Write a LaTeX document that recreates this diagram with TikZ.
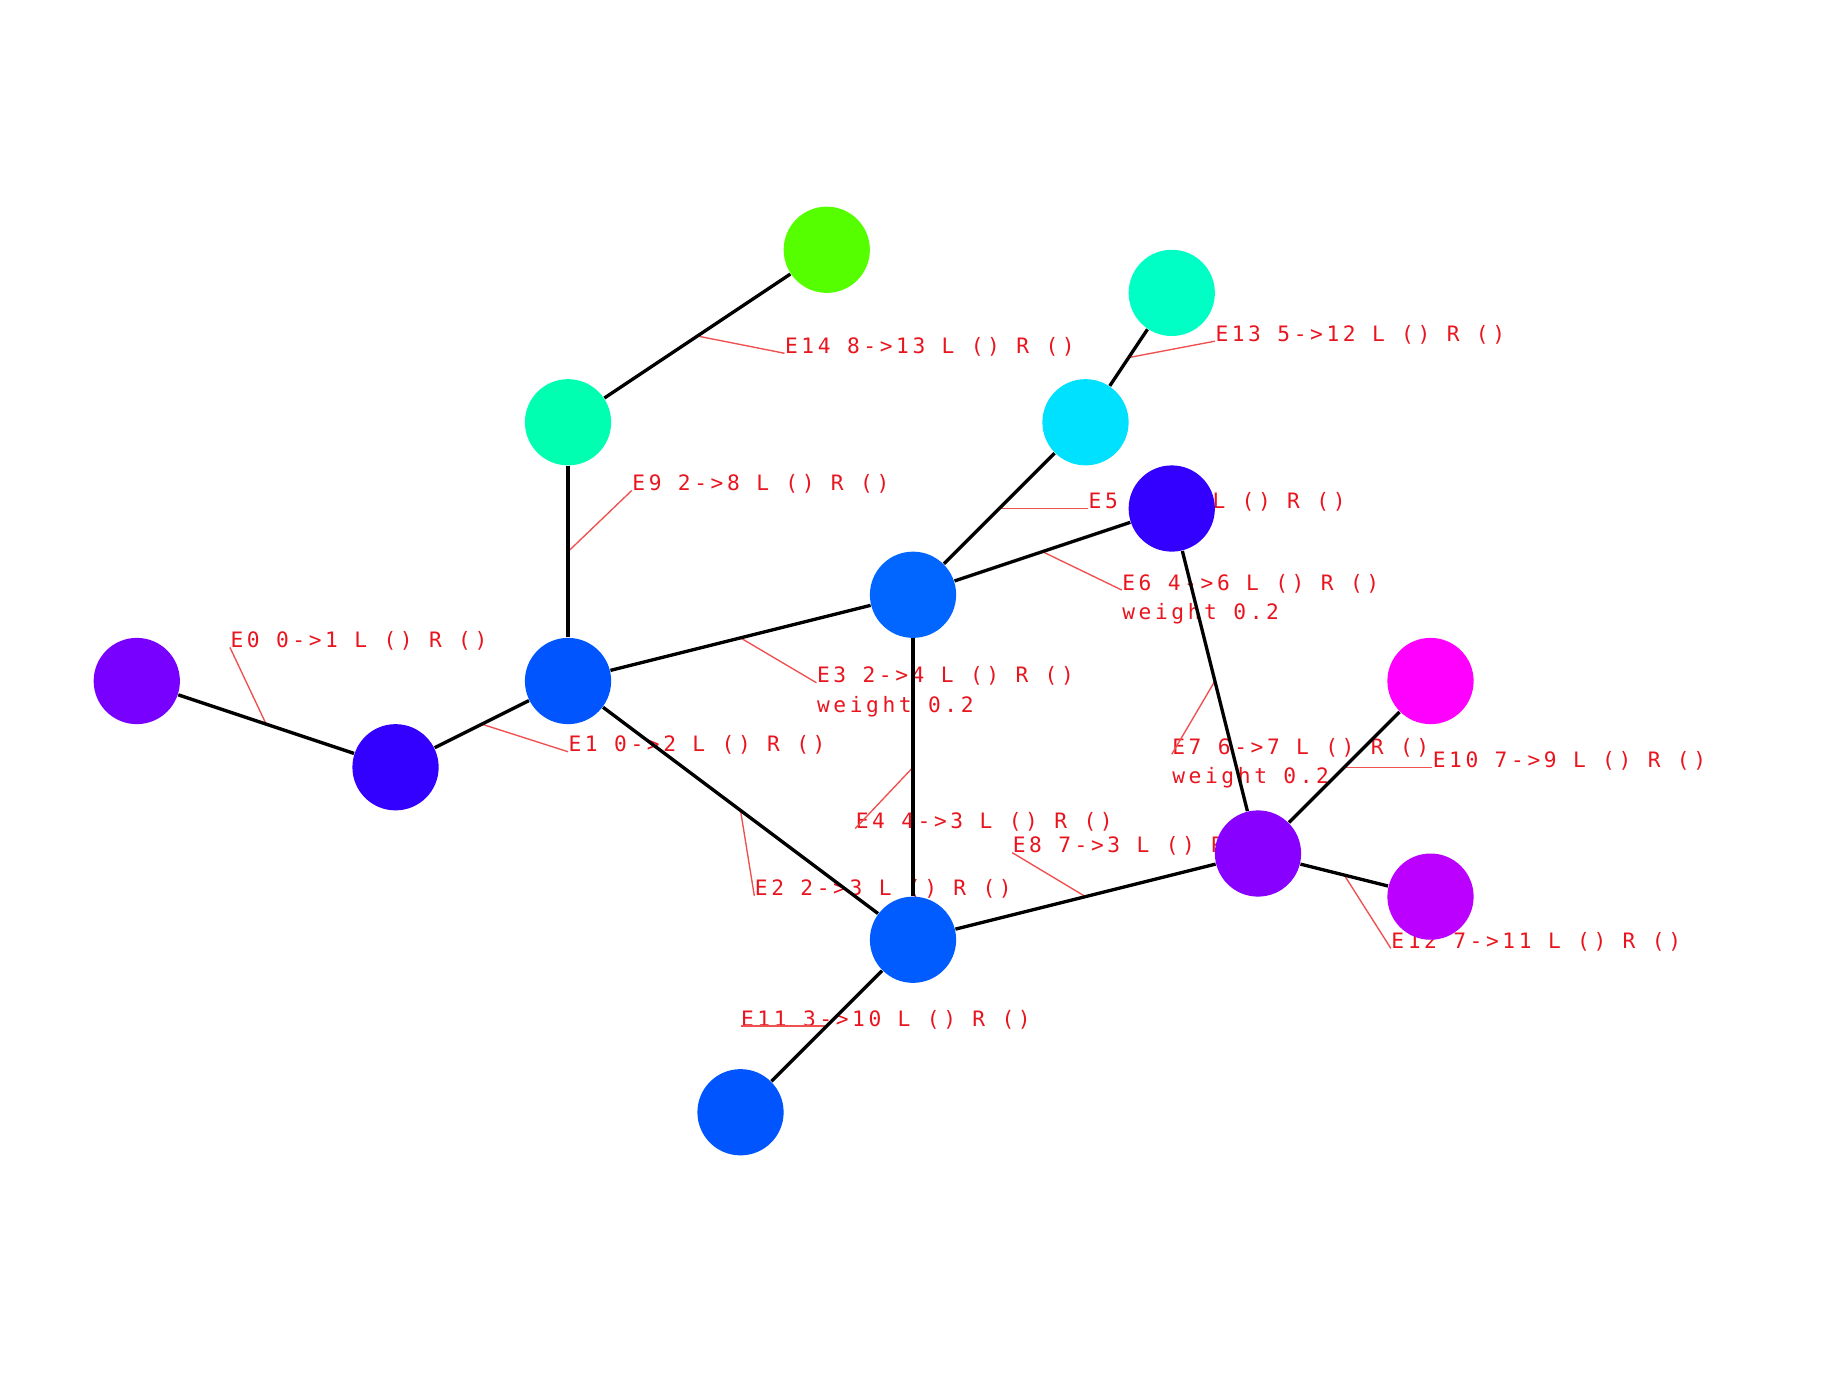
\documentclass[tikz,border=0pt]{standalone}
\usepackage{fontspec}
\newfontfamily\lblfont[LetterSpace=17]{DejaVu Sans Mono}
\definecolor{lblred}{HTML}{E8141E}
\definecolor{leadred}{HTML}{F05050}
\definecolor{c0}{HTML}{7700FF}
\definecolor{c1}{HTML}{3300FF}
\definecolor{c2}{HTML}{0055FF}
\definecolor{c3}{HTML}{005CFF}
\definecolor{c4}{HTML}{0066FF}
\definecolor{c5}{HTML}{00E0FF}
\definecolor{c6}{HTML}{3300FF}
\definecolor{c7}{HTML}{8800FF}
\definecolor{c8}{HTML}{00FFB0}
\definecolor{c9}{HTML}{FF00FF}
\definecolor{c10}{HTML}{0055FF}
\definecolor{c11}{HTML}{BB00FF}
\definecolor{c12}{HTML}{00FFC4}
\definecolor{c13}{HTML}{55FF00}
\pgfdeclarelayer{front}
\pgfsetlayers{main,front}
\begin{document}
\begin{tikzpicture}[
  vtx/.style={circle, minimum size=1cm, inner sep=0pt, draw=none},
  edge/.style={line width=1.1pt, black},
  lbl/.style={anchor=base west, inner sep=0pt, text=lblred, font=\lblfont\fontsize{7.0}{9.7}\selectfont},
  lead/.style={draw=leadred, line width=0.45pt}
]
\useasboundingbox (-6.586,-8.197) rectangle (14.748,7.896);
\begin{pgfonlayer}{front}
\node[vtx, fill=c0] (n0) at (-5,0) {};
\node[vtx, fill=c1] (n1) at (-2,-1) {};
\node[vtx, fill=c2] (n2) at (0,0) {};
\node[vtx, fill=c3] (n3) at (4,-3) {};
\node[vtx, fill=c4] (n4) at (4,1) {};
\node[vtx, fill=c5] (n5) at (6,3) {};
\node[vtx, fill=c6] (n6) at (7,2) {};
\node[vtx, fill=c7] (n7) at (8,-2) {};
\node[vtx, fill=c8] (n8) at (0,3) {};
\node[vtx, fill=c9] (n9) at (10,0) {};
\node[vtx, fill=c10] (n10) at (2,-5) {};
\node[vtx, fill=c11] (n11) at (10,-2.5) {};
\node[vtx, fill=c12] (n12) at (7,4.5) {};
\node[vtx, fill=c13] (n13) at (3,5) {};
\end{pgfonlayer}
% edge midpoints
\path (n0.center) -- (n1.center) coordinate[midway] (m0);
\path (n1.center) -- (n2.center) coordinate[midway] (m1);
\path (n2.center) -- (n3.center) coordinate[midway] (m2);
\path (n2.center) -- (n4.center) coordinate[midway] (m3);
\path (n4.center) -- (n3.center) coordinate[midway] (m4);
\path (n4.center) -- (n5.center) coordinate[midway] (m5);
\path (n4.center) -- (n6.center) coordinate[midway] (m6);
\path (n6.center) -- (n7.center) coordinate[midway] (m7);
\path (n7.center) -- (n3.center) coordinate[midway] (m8);
\path (n2.center) -- (n8.center) coordinate[midway] (m9);
\path (n7.center) -- (n9.center) coordinate[midway] (m10);
\path (n3.center) -- (n10.center) coordinate[midway] (m11);
\path (n7.center) -- (n11.center) coordinate[midway] (m12);
\path (n5.center) -- (n12.center) coordinate[midway] (m13);
\path (n8.center) -- (n13.center) coordinate[midway] (m14);
% labels
\node[lbl] (e0) at (-3.92,0.39) {E0 0->1 L () R ()};
\node[lbl] (e1) at (0.0,-0.82) {E1 0->2 L () R ()};
\node[lbl] (e2) at (2.16,-2.49) {E2 2->3 L () R ()};
\node[lbl] (e3) at (2.88,-0.02) {E3 2->4 L () R ()};
\node[lbl] (e3w) at (2.88,-0.36) {weight 0.2};
\node[lbl] (e4) at (3.33,-1.71) {E4 4->3 L () R ()};
\node[lbl] (e5) at (6.03,2.0) {E5 4->5 L () R ()};
\node[lbl] (e6) at (6.42,1.055) {E6 4->6 L () R ()};
\node[lbl] (e6w) at (6.42,0.715) {weight 0.2};
\node[lbl] (e7) at (7.0,-0.85) {E7 6->7 L () R ()};
\node[lbl] (e7w) at (7.0,-1.19) {weight 0.2};
\node[lbl] (e8) at (5.15,-1.99) {E8 7->3 L () R ()};
\node[lbl] (e9) at (0.74,2.21) {E9 2->8 L () R ()};
\node[lbl] (e10) at (10.02,-1.0) {E10 7->9 L () R ()};
\node[lbl] (e11) at (2.0,-4.0) {E11 3->10 L () R ()};
\node[lbl] (e12) at (9.54,-3.1) {E12 7->11 L () R ()};
\node[lbl] (e13) at (7.5,3.94) {E13 5->12 L () R ()};
\node[lbl] (e14) at (2.51,3.8) {E14 8->13 L () R ()};
% leaders
\draw[lead] (m0) -- (e0.base west);
\draw[lead] (m1) -- (e1.base west);
\draw[lead] (m2) -- (e2.base west);
\draw[lead] (m3) -- (e3.base west);
\draw[lead] (m4) -- (e4.base west);
\draw[lead] (m5) -- (e5.base west);
\draw[lead] (m6) -- (e6.base west);
\draw[lead] (m7) -- (e7.base west);
\draw[lead] (m8) -- (e8.base west);
\draw[lead] (m9) -- (e9.base west);
\draw[lead] (m10) -- (e10.base west);
\draw[lead] (m11) -- (e11.base west);
\draw[lead] (m12) -- (e12.base west);
\draw[lead] (m13) -- (e13.base west);
\draw[lead] (m14) -- (e14.base west);
% edges
\draw[edge] (n0) -- (n1);
\draw[edge] (n1) -- (n2);
\draw[edge] (n2) -- (n3);
\draw[edge] (n2) -- (n4);
\draw[edge] (n4) -- (n3);
\draw[edge] (n4) -- (n5);
\draw[edge] (n4) -- (n6);
\draw[edge] (n6) -- (n7);
\draw[edge] (n7) -- (n3);
\draw[edge] (n2) -- (n8);
\draw[edge] (n7) -- (n9);
\draw[edge] (n3) -- (n10);
\draw[edge] (n7) -- (n11);
\draw[edge] (n5) -- (n12);
\draw[edge] (n8) -- (n13);
\end{tikzpicture}
\end{document}
